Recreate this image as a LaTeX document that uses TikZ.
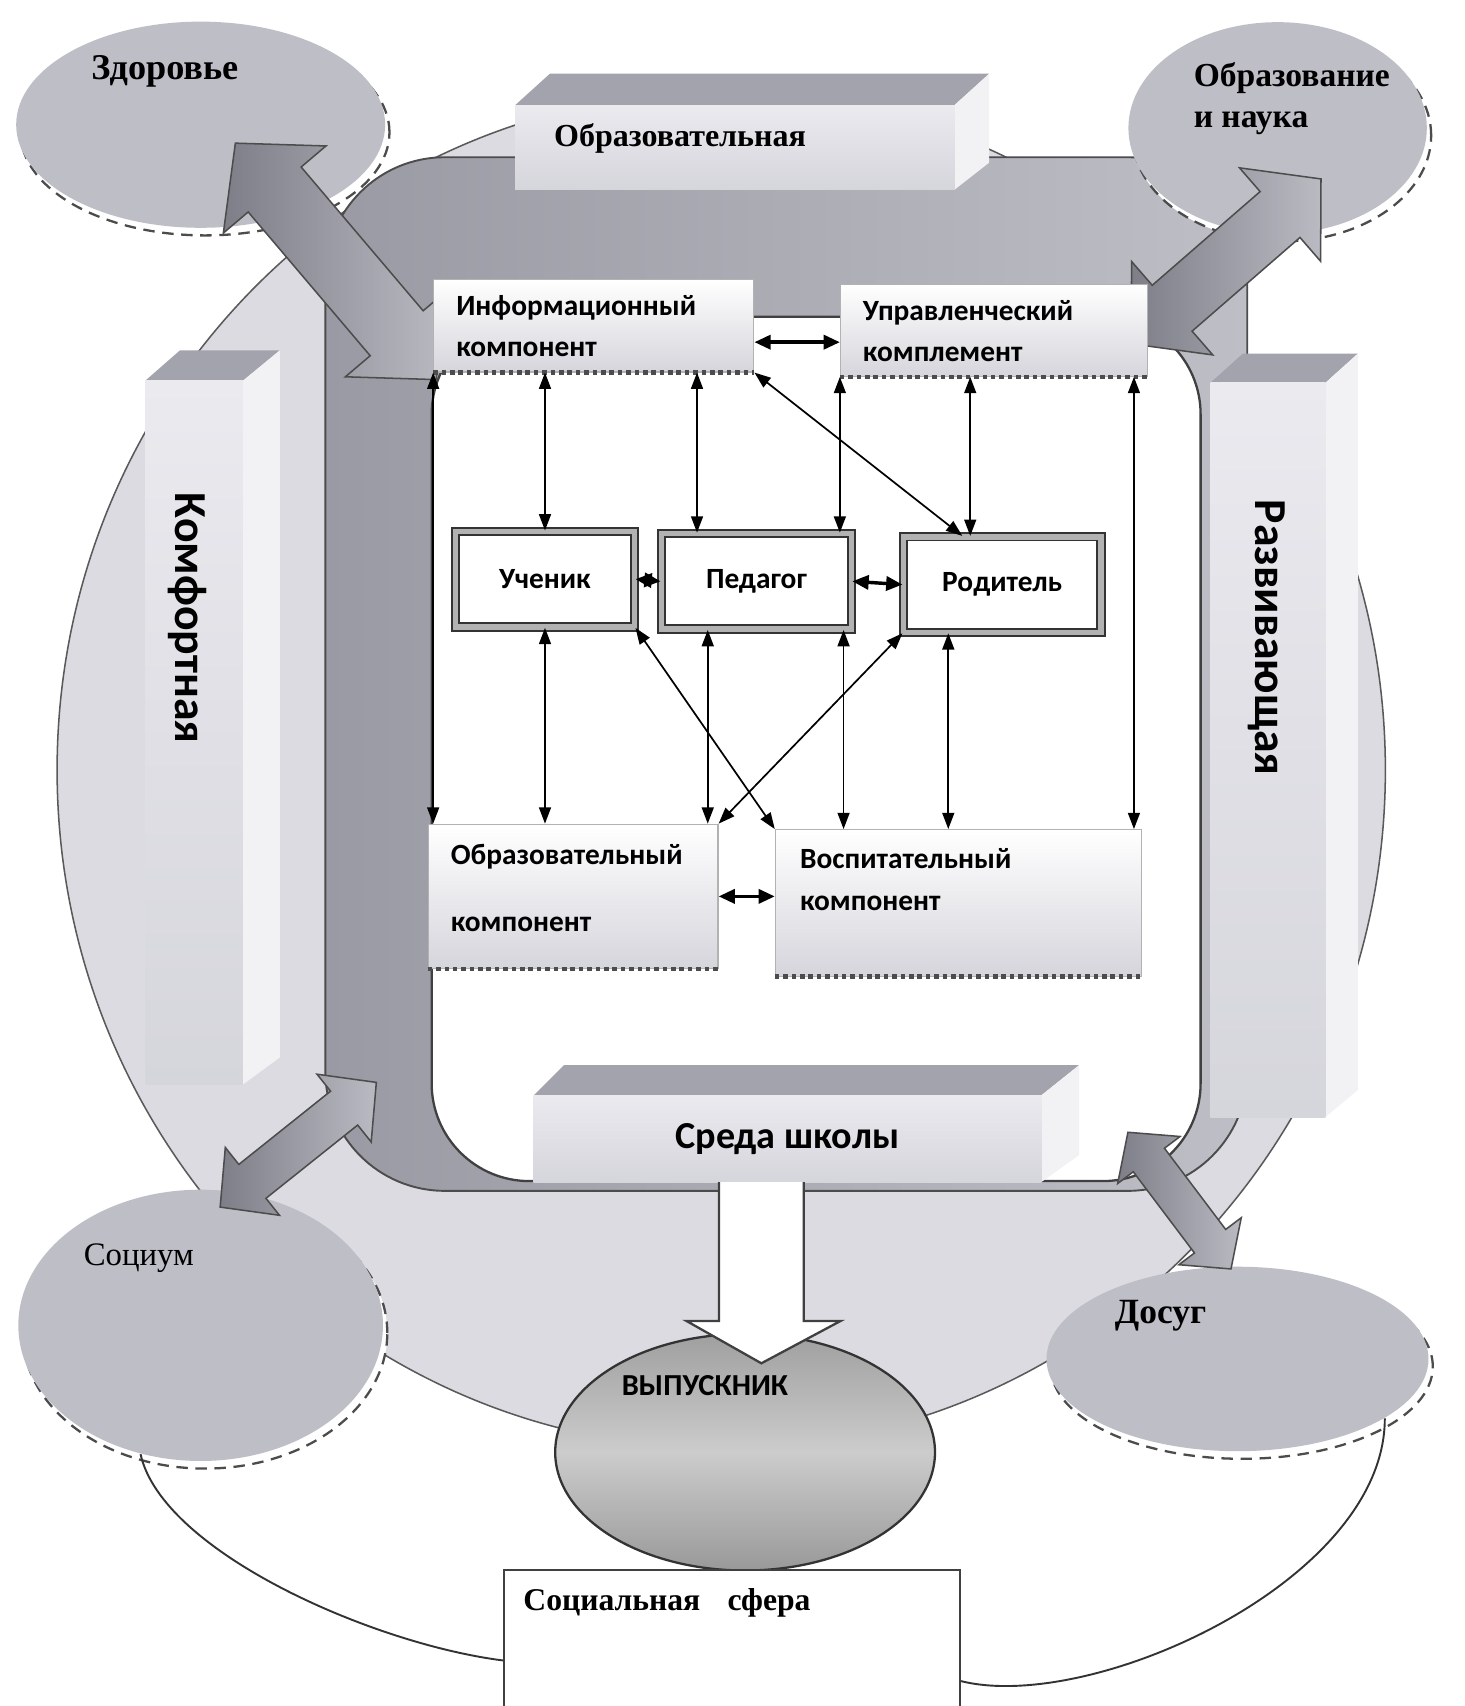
\documentclass[tikz,border=0pt]{standalone}
\usepackage{fontspec}
\setmainfont{Liberation Serif}
\newfontfamily\calibri{Carlito}
\usepackage{xcolor}
\usepackage{tikz}
\usetikzlibrary{shapes.geometric, arrows.meta, calc, shadows}

\definecolor{ballgray}{HTML}{BEBEC7}
\definecolor{circgray}{HTML}{DBDBE1}
\definecolor{framedark}{HTML}{9A9AA4}
\definecolor{framelight}{HTML}{BEBEC6}
\definecolor{facelight}{HTML}{EAEAEF}
\definecolor{facemid}{HTML}{D5D5DC}
\definecolor{topface}{HTML}{A3A3AD}
\definecolor{sideface}{HTML}{F2F2F5}
\definecolor{arrdark}{HTML}{7E7E88}
\definecolor{arrlight}{HTML}{BABAC3}

% double block arrow: from, to, shaft half width, head half width, head length
\newcommand{\blockarrow}[5]{%
  \shadedraw[blockarr] (#1) -- ($(#1)!#5!(#2)!#4!90:(#2)$) -- ($(#1)!#5!(#2)!#3!90:(#2)$)
    -- ($(#2)!#5!(#1)!#3!-90:(#1)$) -- ($(#2)!#5!(#1)!#4!-90:(#1)$) -- (#2)
    -- ($(#2)!#5!(#1)!#4!90:(#1)$) -- ($(#2)!#5!(#1)!#3!90:(#1)$)
    -- ($(#1)!#5!(#2)!#3!-90:(#2)$) -- ($(#1)!#5!(#2)!#4!-90:(#2)$) -- cycle;}

\begin{document}
\begin{tikzpicture}[x=0.01cm, y=-0.01cm,
  ball/.style={ellipse, fill=ballgray, inner sep=0pt,
    drop shadow={shadow xshift=0.04cm, shadow yshift=-0.07cm, opacity=1, fill=white, draw=black!70, densely dashed, line width=0.6pt}},
  facebox/.style={rectangle, inner sep=0pt, top color=facelight, bottom color=facemid},
  comp/.style={rectangle, inner sep=0pt, top color=white, bottom color=facemid, draw=black!30, line width=0.3pt},
  role/.style={rectangle, fill=white, draw=black!80, double=gray!60, double distance=0.05cm, line width=0.5pt, font=\calibri\bfseries\fontsize{7.7}{9}\selectfont},
  comptext/.style={anchor=west, align=left, inner sep=0pt, font=\calibri\bfseries\fontsize{7.7}{10.8}\selectfont},
  sertext/.style={inner sep=0pt, font=\bfseries\fontsize{9.5}{10.8}\selectfont},
  bigtext/.style={inner sep=0pt, font=\calibri\bfseries\fontsize{12}{14}\selectfont},
  link/.style={<->, >={Triangle[length=0.15cm, width=0.11cm]}, line width=0.45pt},
  hlink/.style={link, line width=0.9pt, >={Triangle[length=0.15cm, width=0.13cm]}},
  blockarr/.style={left color=arrdark, right color=arrlight, draw=black!70, line width=0.4pt},
  dotline/.style={densely dotted, line width=1.2pt, black!70}]

\fill[white] (0,0) rectangle (1350,1573);
\useasboundingbox (0,0) rectangle (1350,1573);

% big circle
\node[ellipse, minimum width=12.24cm, minimum height=12.5cm, inner sep=0pt, fill=circgray, draw=black!65, line width=0.4pt] (milieu) at (665,710) {};

% school frame
\draw[left color=framedark, right color=framelight, draw=black!70, line width=0.5pt, rounded corners=1.1cm] (300,145) rectangle (1150,1098);
\draw[fill=white, draw=black!75, line width=0.6pt, rounded corners=0.9cm] (398,292) rectangle (1107,1089);

% outer spheres
\node[ball, minimum width=3.4cm, minimum height=1.9cm] (zdr) at (185,115) {};
\node[ball, minimum width=2.75cm, minimum height=1.95cm] (nauka) at (1178,118) {};
\node[ball, minimum width=3.36cm, minimum height=2.5cm] (soc) at (185,1222) {};
\node[ball, minimum width=3.52cm, minimum height=1.7cm] (dos) at (1141,1253) {};
\node[ellipse, minimum width=3.5cm, minimum height=2.18cm, inner sep=0pt, draw=black!80, line width=0.6pt, top color=gray!75, bottom color=gray!80, middle color=gray!40] (vyp) at (687,1339) {};

\node[sertext] (zdr-t) at (152,66) {Здоровье};
\node[sertext, align=left, anchor=west, font=\bfseries\fontsize{8.8}{10.8}\selectfont] (nauka-t) at (1100,91) {Образование\\и наука};
\node[inner sep=0pt, font=\fontsize{8.6}{10}\selectfont] (soc-t) at (128,1160) {Социум};
\node[sertext, font=\bfseries\fontsize{9.3}{10.8}\selectfont] (dos-t) at (1070,1213) {Досуг};
\node[inner sep=0pt, font=\calibri\bfseries\fontsize{8}{10}\selectfont] (vyp-t) at (650,1278) {ВЫПУСКНИК};

% slabs
\fill[topface] (475,97) -- (507,68) -- (912,68) -- (880,97) -- cycle;
\fill[sideface] (880,97) -- (912,68) -- (912,150) -- (880,175) -- cycle;
\node[facebox, minimum width=4.05cm, minimum height=0.78cm] (obrF) at (677.5,136) {};
\node[sertext, font=\bfseries\fontsize{8.4}{10}\selectfont] (obrF-t) at (627,128) {Образовательная};

\fill[topface] (134,351) -- (166,323) -- (258,323) -- (224,351) -- cycle;
\fill[sideface] (224,351) -- (258,323) -- (258,975) -- (224,1000) -- cycle;
\node[facebox, minimum width=0.9cm, minimum height=6.49cm] (komfF) at (179,675.5) {};
\node[bigtext, rotate=-90] (komfF-t) at (173,570) {Комфортная};

\fill[topface] (1116,353) -- (1146,326) -- (1252,326) -- (1222,353) -- cycle;
\fill[sideface] (1222,353) -- (1252,326) -- (1252,1005) -- (1222,1030) -- cycle;
\node[facebox, minimum width=1.06cm, minimum height=6.77cm] (razvF) at (1169,691.5) {};
\node[bigtext, rotate=-90] (razvF-t) at (1168,588) {Развивающая};

\fill[topface] (492,1010) -- (520,982) -- (995,982) -- (960,1010) -- cycle;
\fill[sideface] (960,1010) -- (995,982) -- (995,1065) -- (960,1090) -- cycle;
\node[facebox, minimum width=4.68cm, minimum height=0.8cm, font=\calibri\bfseries\fontsize{10}{12}\selectfont] (sreda) at (726,1050) {Среда школы};

% block arrows
\coordinate (a1s) at (217,132); \coordinate (a1e) at (402,350);
\blockarrow{a1s}{a1e}{0.32cm}{0.62cm}{0.56cm}
\coordinate (a2s) at (1043,317); \coordinate (a2e) at (1218,165);
\blockarrow{a2s}{a2e}{0.28cm}{0.57cm}{0.5cm}
\coordinate (a3s) at (203,1113); \coordinate (a3e) at (347,998);
\blockarrow{a3s}{a3e}{0.2cm}{0.4cm}{0.38cm}
\coordinate (a4s) at (1040,1044); \coordinate (a4e) at (1135,1170);
\blockarrow{a4s}{a4e}{0.18cm}{0.36cm}{0.32cm}

\coordinate (wtop) at (702,1090);
\draw[fill=white, draw=black!75, line width=0.6pt] (wtop) ++(-39,0) -- ++(0,128) -- ++(-30,0) -- ++(69,39) -- ++(73,-39) -- ++(-34,0) -- ++(0,-128);

% components
\node[comp, minimum width=2.95cm, minimum height=0.85cm] (inf) at (547.5,300.5) {};
\node[comptext] (inf-t) at (420,301) {Информационный\\компонент};
\node[comp, minimum width=2.83cm, minimum height=0.85cm] (upr) at (916.5,304.5) {};
\node[comptext] (upr-t) at (795,305) {Управленческий\\комплемент};
\node[comp, minimum width=2.67cm, minimum height=1.33cm] (obr) at (528.5,826.5) {};
\node[comptext] (obr-t) at (415,819) {Образовательный\\[6.8pt]компонент};
\node[comp, minimum width=3.37cm, minimum height=1.35cm] (vos) at (883.5,832.5) {};
\node[comptext] (vos-t) at (737,811) {Воспитательный\\компонент};
\foreach \b in {inf, upr, obr, vos}
  \draw[dotline] (\b.south west) -- (\b.south east);

\node[role, minimum width=1.65cm, minimum height=0.88cm] (ucen) at (502.5,534) {Ученик};
\node[role, minimum width=1.75cm, minimum height=0.88cm] (ped) at (697.5,536) {Педагог};
\node[role, minimum width=1.82cm, minimum height=0.88cm] (rod) at (924,539) {Родитель};

\coordinate (ped-n1) at ($(ped.north west)!0.19!(ped.north east)$);
\coordinate (rod-n0) at ($(rod.north west)!0.30!(rod.north east)$);
\coordinate (rod-n1) at ($(rod.north west)!0.34!(rod.north east)$);
\coordinate (ped-s1) at ($(ped.south west)!0.246!(ped.south east)$);
\coordinate (ped-s2) at ($(ped.south west)!0.954!(ped.south east)$);
\coordinate (rod-s1) at ($(rod.south west)!0.23!(rod.south east)$);
\coordinate (upr-s1) at ($(upr.south west)!0.954!(upr.south east)$);

\draw[hlink] ([yshift=-0.15cm]inf.east) -- ([yshift=-0.15cm]inf.east -| upr.west);
\draw[link] (inf.south -| ucen.north) -- (ucen.north);
\draw[link] (ped-n1 |- inf.south) -- (ped-n1);
\draw[link] (inf.south east) -- (rod-n0);
\draw[link] (upr.south west) -- (upr.south west |- ped.north);
\draw[link] (rod-n1 |- upr.south) -- (rod-n1);
\draw[link] (upr-s1) -- (upr-s1 |- vos.north);
\draw[link] (inf.south west) -- (inf.south west |- obr.north);
\draw[hlink] (ucen.east) -- (ped.west);
\draw[hlink] (ped.east) -- (rod.west);
\draw[link] (ucen.south) -- (ucen.south |- obr.north);
\draw[link] (ucen.south east) -- (vos.north west);
\draw[link] (ped-s1) -- (ped-s1 |- obr.north);
\draw[link] (ped-s2) -- (ped-s2 |- vos.north);
\draw[link] (rod.south west) -- (obr.north east);
\draw[link] (rod-s1) -- (rod-s1 |- vos.north);
\draw[hlink] (obr.east) -- (obr.east -| vos.west);

% social sphere
\node[rectangle, draw=black!75, fill=white, line width=0.5pt, minimum width=4.2cm, minimum height=1.4cm] (sfera) at (675,1518) {};
\node[sertext, font=\bfseries\fontsize{8.3}{10}\selectfont] (sfera-t) at (615,1478) {Социальная\hspace{0.25cm}сфера};
\draw[line width=0.5pt, black!80] (soc.245) .. controls +(20,90) and +(-120,-15) .. ([yshift=-0.13cm]sfera.west);
\draw[line width=0.5pt, black!80] (dos.-22) .. controls +(0,150) and +(120,30) .. ([yshift=-0.32cm]sfera.east);
\end{tikzpicture}
\end{document}
